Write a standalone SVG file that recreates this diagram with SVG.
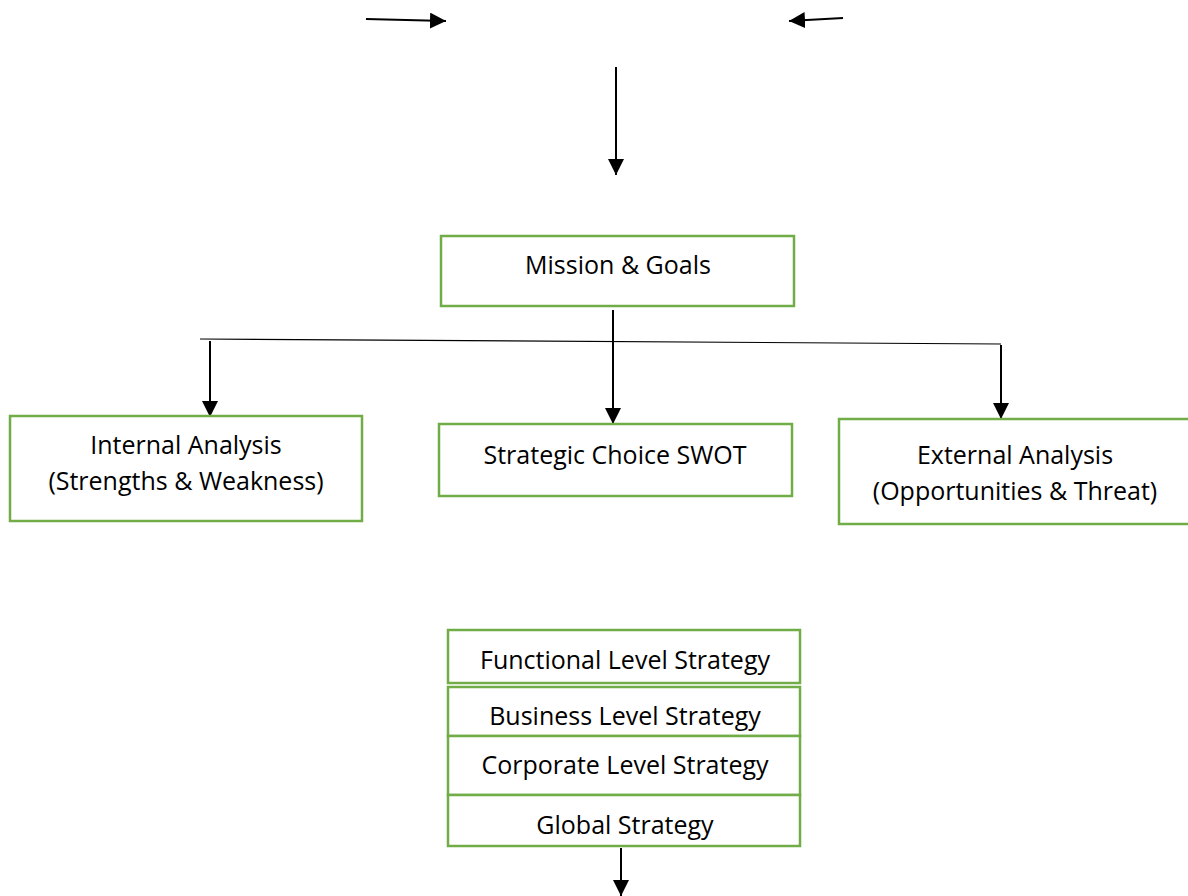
<svg xmlns="http://www.w3.org/2000/svg" width="1188" height="896" viewBox="0 0 1188 896">
<style>
.box{fill:#fff;stroke:#70AD47;stroke-width:2.5}
.ln{stroke:#000;stroke-width:2;fill:none}
.thin{stroke:#000;stroke-width:1.2;fill:none}
text{font-family:"Open Sans","Noto Sans",sans-serif;font-size:25px;fill:#000;text-anchor:middle}
</style>
<defs>
<marker id="ah" markerWidth="8" markerHeight="8" refX="8" refY="4" orient="auto" markerUnits="strokeWidth">
<path d="M0,0 L8,4 L0,8 Z" fill="#000"/>
</marker>
</defs>
<rect width="1188" height="896" fill="#fff"/>
<g id="connectors">
<line class="ln" x1="366" y1="19" x2="446" y2="21" marker-end="url(#ah)"/>
<line class="ln" x1="843" y1="18" x2="789" y2="21" marker-end="url(#ah)"/>
<line class="ln" x1="616" y1="67" x2="616" y2="175" marker-end="url(#ah)"/>
<line class="ln" x1="613" y1="310" x2="613" y2="424" marker-end="url(#ah)"/>
<line class="thin" x1="200" y1="339" x2="1001" y2="344"/>
<line class="ln" x1="210" y1="341" x2="210" y2="417" marker-end="url(#ah)"/>
<line class="ln" x1="1001" y1="345" x2="1001" y2="419" marker-end="url(#ah)"/>
<line class="ln" x1="621" y1="848" x2="621" y2="896" marker-end="url(#ah)"/>
</g>
<g id="mission">
<rect class="box" x="441" y="236" width="353" height="70"/>
<text x="618" y="274">Mission &amp; Goals</text>
</g>
<g id="internal">
<rect class="box" x="10" y="416" width="352" height="105"/>
<text x="186" y="454">Internal Analysis</text>
<text x="186" y="490">(Strengths &amp; Weakness)</text>
</g>
<g id="strategic">
<rect class="box" x="439" y="424" width="353" height="72"/>
<text x="615" y="464">Strategic Choice SWOT</text>
</g>
<g id="external">
<rect class="box" x="839" y="419" width="352" height="105"/>
<text x="1015" y="464">External Analysis</text>
<text x="1015" y="500">(Opportunities &amp; Threat)</text>
</g>
<g id="functional">
<rect class="box" x="448" y="630" width="352" height="53"/>
<text x="625" y="669">Functional Level Strategy</text>
</g>
<g id="business">
<rect class="box" x="448" y="687" width="352" height="49"/>
<text x="625" y="725">Business Level Strategy</text>
</g>
<g id="corporate">
<rect class="box" x="448" y="736" width="352" height="59"/>
<text x="625" y="774">Corporate Level Strategy</text>
</g>
<g id="global">
<rect class="box" x="448" y="795" width="352" height="51"/>
<text x="625" y="834">Global Strategy</text>
</g>
</svg>
